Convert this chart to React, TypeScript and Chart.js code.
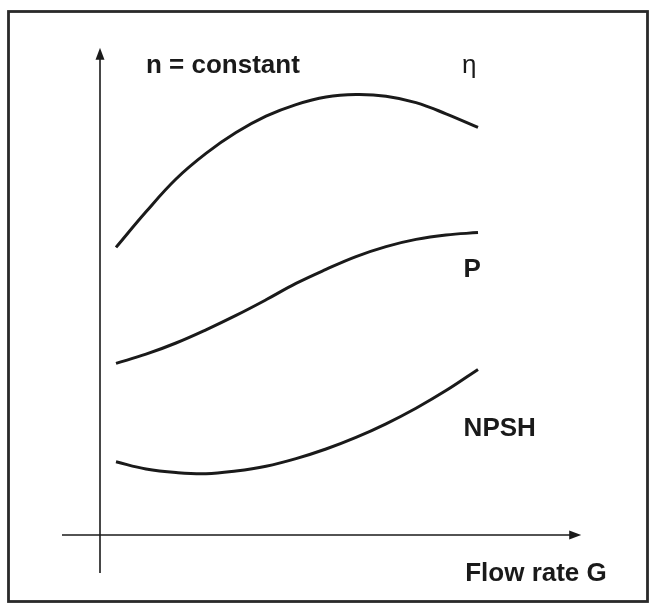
import React, { useEffect, useRef } from "react";
import { Chart, registerables } from "chart.js";

Chart.register(...registerables);

// Flow rate G (shared x values, arbitrary units)
const flowG = [0.4, 1.15, 1.9, 2.65, 3.4, 4.15, 4.9, 5.65, 6.4, 7.15, 7.9, 8.65, 9.45];
// Efficiency curve η
const etaValues = [7.19, 8.08, 8.9, 9.54, 10.06, 10.47, 10.76, 10.95, 11.01, 10.97, 10.81, 10.53, 10.19];
// Power curve P
const powerValues = [4.29, 4.52, 4.8, 5.13, 5.49, 5.88, 6.29, 6.64, 6.96, 7.21, 7.39, 7.5, 7.56];
// NPSH curve
const npshValues = [1.83, 1.65, 1.56, 1.53, 1.6, 1.72, 1.91, 2.15, 2.44, 2.78, 3.17, 3.61, 4.14];

// Axis extents (data units)
const xAxisRange = [-0.95, 12.03];
const yAxisRange = [-0.95, 12.18];

// Text labels and anchors (data units: left / baseline)
const labelTexts = ["n = constant", "η", "P", "NPSH", "Flow rate G"];
const labelX = [1.15, 9.05, 9.09, 9.09, 9.13];
const labelY = [11.56, 11.56, 6.46, 2.475, -1.15];
const labelBold = [true, false, true, true, true];

const INK = "#1a1a1a";

const decorPlugin = {
  id: "decor",
  beforeDraw(chart: any) {
    const ctx = chart.ctx;
    ctx.save();
    ctx.fillStyle = "#ffffff";
    ctx.fillRect(0, 0, chart.width, chart.height);
    ctx.strokeStyle = "#2a2a2a";
    ctx.lineWidth = 2.8;
    ctx.strokeRect(8.5, 11.5, 639, 590);
    ctx.restore();
  },
  afterDatasetsDraw(chart: any) {
    const ctx = chart.ctx;
    const xs = chart.scales.x;
    const ys = chart.scales.y;
    const x0 = xs.getPixelForValue(0);
    const y0 = ys.getPixelForValue(0);
    const xStart = xs.getPixelForValue(xAxisRange[0]);
    const xEnd = xs.getPixelForValue(xAxisRange[1]);
    const yStart = ys.getPixelForValue(yAxisRange[0]);
    const yEnd = ys.getPixelForValue(yAxisRange[1]);
    ctx.save();
    ctx.strokeStyle = INK;
    ctx.fillStyle = INK;
    ctx.lineWidth = 1.6;
    // x axis
    ctx.beginPath();
    ctx.moveTo(xStart, y0);
    ctx.lineTo(xEnd - 10, y0);
    ctx.stroke();
    ctx.beginPath();
    ctx.moveTo(xEnd, y0);
    ctx.lineTo(xEnd - 12, y0 - 4.5);
    ctx.lineTo(xEnd - 12, y0 + 4.5);
    ctx.closePath();
    ctx.fill();
    // y axis
    ctx.beginPath();
    ctx.moveTo(x0, yStart);
    ctx.lineTo(x0, yEnd + 10);
    ctx.stroke();
    ctx.beginPath();
    ctx.moveTo(x0, yEnd);
    ctx.lineTo(x0 - 4.5, yEnd + 12);
    ctx.lineTo(x0 + 4.5, yEnd + 12);
    ctx.closePath();
    ctx.fill();
    // labels
    ctx.textAlign = "left";
    ctx.textBaseline = "alphabetic";
    labelTexts.forEach((t, i) => {
      ctx.font = (labelBold[i] ? "bold " : "") + "26px 'Liberation Sans', Arial, sans-serif";
      ctx.fillText(t, xs.getPixelForValue(labelX[i]), ys.getPixelForValue(labelY[i]));
    });
    ctx.restore();
  },
};

export default function App() {
  const canvasRef = useRef<HTMLCanvasElement | null>(null);

  useEffect(() => {
    if (!canvasRef.current) return;
    const mk = (vals: number[]) => flowG.map((g, i) => ({ x: g, y: vals[i] }));
    const ds = (label: string, vals: number[]) => ({
      label,
      data: mk(vals),
      borderColor: INK,
      borderWidth: 3,
      pointRadius: 0,
      fill: false,
      tension: 0.4,
      borderCapStyle: "butt" as const,
    });
    const chart = new Chart(canvasRef.current, {
      type: "line",
      data: {
        datasets: [ds("η", etaValues), ds("P", powerValues), ds("NPSH", npshValues)],
      },
      options: {
        animation: false,
        responsive: false,
        devicePixelRatio: 1,
        layout: { padding: 0 },
        plugins: { legend: { display: false }, tooltip: { enabled: false }, title: { display: false } },
        events: [],
        scales: {
          x: { type: "linear", display: false, min: -2.5, max: 13.9 },
          y: { type: "linear", display: false, min: -1.875, max: 13.375 },
        },
      },
      plugins: [decorPlugin],
    });
    return () => chart.destroy();
  }, []);

  return (
    <div style={{ position: "fixed", left: 0, top: 0, width: 656, height: 610, background: "#fff" }}>
      <canvas ref={canvasRef} width={656} height={610} style={{ display: "block" }} />
    </div>
  );
}
